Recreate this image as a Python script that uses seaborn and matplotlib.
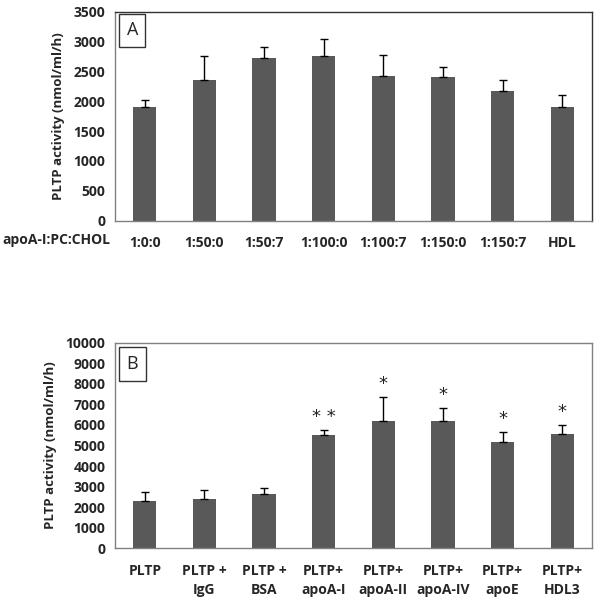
import matplotlib
matplotlib.use("Agg")
import matplotlib.pyplot as plt
import seaborn as sns
import pandas as pd
import numpy as np

sns.set_style("white")
plt.rcParams['font.family'] = ['Open Sans', 'DejaVu Sans']

# Panel A data
cats_a = ["1:0:0", "1:50:0", "1:50:7", "1:100:0", "1:100:7", "1:150:0", "1:150:7", "HDL"]
vals_a = [1900, 2350, 2720, 2760, 2430, 2410, 2180, 1900]
errs_a = [120, 400, 185, 290, 345, 160, 175, 210]

# Panel B data
cats_b = ["PLTP", "PLTP +\nIgG", "PLTP +\nBSA", "PLTP+\napoA-I", "PLTP+\napoA-II",
          "PLTP+\napoA-IV", "PLTP+\napoE", "PLTP+\nHDL3"]
vals_b = [2290, 2390, 2650, 5530, 6210, 6210, 5170, 5570]
errs_b = [440, 440, 280, 230, 1140, 600, 490, 410]
stars_b = ["", "", "", "* *", "*", "*", "*", "*"]

bar_color = "#595959"
frame_color = "#808080"

fig = plt.figure(figsize=(6.0, 6.09), dpi=100)
axA = fig.add_axes([0.1917, 0.6376, 0.795, 0.3432])
axB = fig.add_axes([0.1917, 0.0997, 0.795, 0.3376])


def draw(ax, cats, vals, errs, ymax, step):
    df = pd.DataFrame({"cat": cats, "val": vals})
    sns.barplot(data=df, x="cat", y="val", ax=ax, color=bar_color, width=0.39,
                saturation=1, errorbar=None, edgecolor="none")
    x = np.arange(len(cats))
    ax.errorbar(x, vals, yerr=[np.zeros(len(errs)), errs], fmt="none",
                ecolor="black", elinewidth=1.0, capsize=3, capthick=1.0)
    ax.set_xlim(-0.5, len(cats) - 0.5)
    ax.set_ylim(0, ymax)
    ax.set_yticks(np.arange(0, ymax + 1, step))
    ax.set_xticks(x)
    ax.set_xticks(np.arange(-0.5, len(cats), 1.0), minor=True)
    ax.tick_params(axis="x", which="major", length=0, pad=11)
    ax.tick_params(axis="x", which="minor", length=5, width=0.8, color=frame_color, direction="out")
    ax.tick_params(axis="y", which="major", length=4, width=0.8, color=frame_color, direction="out", pad=3)
    ax.set_xlabel("")
    ax.set_ylabel("PLTP activity (nmol/ml/h)", fontsize=9.5, fontweight="bold", labelpad=6)
    for lab in ax.get_xticklabels() + ax.get_yticklabels():
        lab.set_fontweight("bold")
        lab.set_fontsize(10)
    for lab in ax.get_xticklabels():
        lab.set_linespacing(1.45)
    for s in ax.spines.values():
        s.set_visible(True)
        s.set_color(frame_color)
        s.set_linewidth(1.0)


draw(axA, cats_a, vals_a, errs_a, 3500, 500)
draw(axB, cats_b, vals_b, errs_b, 10000, 1000)
axA.spines["top"].set_color("#333333")
axA.spines["right"].set_color("#333333")

axA.text(-0.01, -0.092, "apoA-I:PC:CHOL", transform=axA.transAxes, ha="right", va="center",
         fontsize=10, fontweight="bold")

for ax, lab, yy in [(axA, "A", 0.912), (axB, "B", 0.896)]:
    ax.text(0.036, yy, lab, transform=ax.transAxes, ha="center", va="center", fontsize=13,
            bbox=dict(boxstyle="square,pad=0.42", facecolor="white", edgecolor="#333333", linewidth=1.0))

for i, (v, e, s) in enumerate(zip(vals_b, errs_b, stars_b)):
    if s:
        axB.text(i, v + e + 200, s, ha="center", va="bottom", fontsize=13, color="#222222",
                 family="DejaVu Sans")

fig.savefig("out.png", dpi=100)
